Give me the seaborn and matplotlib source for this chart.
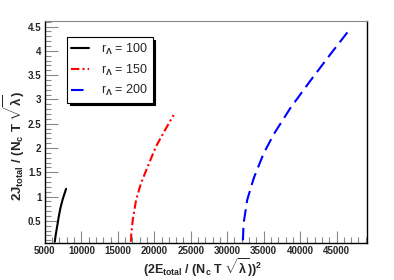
import matplotlib
matplotlib.use("Agg")
import matplotlib.pyplot as plt
import seaborn as sns
import pandas as pd
from matplotlib.ticker import MultipleLocator

# Data
labels = [r"r$_{\Lambda}$ = 100", r"r$_{\Lambda}$ = 150", r"r$_{\Lambda}$ = 200"]
x100 = [6350, 6450, 6600, 6750, 6900, 7150, 7450, 7900]
y100 = [0.07, 0.18, 0.32, 0.45, 0.59, 0.78, 0.95, 1.16]
x150 = [16800, 16850, 17050, 17500, 18190, 19100, 20230, 21360, 22650]
y150 = [0.07, 0.25, 0.52, 0.93, 1.28, 1.62, 2.03, 2.34, 2.68]
x200 = [32150, 32250, 32740, 33640, 35000, 36370, 38650, 41380, 44100, 46740]
y200 = [0.1, 0.45, 0.93, 1.38, 1.89, 2.28, 2.82, 3.38, 3.92, 4.43]

colors = ["black", "red", "blue"]
dashes = [None, (4, 1.5, 1, 1.5), (6, 3)]

sns.set_style("white")
plt.rcParams["font.family"] = ["Liberation Sans", "DejaVu Sans"]
plt.rcParams["mathtext.fontset"] = "custom"
plt.rcParams["mathtext.rm"] = "Liberation Sans:bold"
plt.rcParams["mathtext.it"] = "Liberation Sans:bold"
plt.rcParams["mathtext.bf"] = "Liberation Sans:bold"

fig = plt.figure(figsize=(3.94, 2.8), dpi=100)
ax = fig.add_axes([0.114, 0.133, 0.818, 0.793])

series = [(x100, y100), (x150, y150), (x200, y200)]
for (xs, ys), lab, c, d in zip(series, labels, colors, dashes):
    df = pd.DataFrame({"x": xs, "y": ys})
    sns.lineplot(data=df, x="x", y="y", ax=ax, color=c, sort=False,
                 estimator=None, label=lab, lw=1.5)
    if d is not None:
        ax.lines[-1].set_dashes(d)

ax.set_xlim(5000, 49200)
ax.set_ylim(0.05, 4.62)
ax.xaxis.set_major_locator(MultipleLocator(5000))
ax.xaxis.set_minor_locator(MultipleLocator(1000))
ax.yaxis.set_minor_locator(MultipleLocator(0.1))
ax.set_yticks([0.5, 1, 1.5, 2, 2.5, 3, 3.5, 4, 4.5])
ax.set_yticklabels(["0.5", "1", "1.5", "2", "2.5", "3", "3.5", "4", "4.5"])
ax.tick_params(which="major", direction="in", length=9, width=0.8, color="#888888",
               labelsize=7, pad=2.5, bottom=True, left=True)
ax.tick_params(which="minor", direction="in", length=4.5, width=0.8, color="#888888",
               bottom=True, left=True)
for t in ax.get_xticklabels() + ax.get_yticklabels():
    t.set_fontweight("bold")
for s in ["left", "bottom", "right"]:
    ax.spines[s].set_color("black")
    ax.spines[s].set_linewidth(1.0)
ax.spines["top"].set_color("#888888")
ax.set_xlabel("")
ax.set_ylabel("")

fig.text(0.515, 0.045, r"(2E$_{\mathrm{total}}$ / (N$_{\mathrm{c}}$ T $\sqrt{\lambda}$))$^{2}$",
         ha="center", va="center", fontsize=9, fontweight="bold")
fig.text(0.035, 0.48, r"2J$_{\mathrm{total}}$ / (N$_{\mathrm{c}}$ T $\sqrt{\lambda}$)",
         ha="center", va="center", rotation=90, fontsize=9.5, fontweight="bold")

leg = ax.legend(loc="upper left", bbox_to_anchor=(0.068, 0.925), frameon=True,
                fancybox=False, shadow={"color": "black", "alpha": 1, "ox": 2, "oy": -2},
                fontsize=9, handlelength=1.4, borderpad=0.35, labelspacing=0.45,
                handletextpad=1.0, borderaxespad=0)
leg.get_frame().set_edgecolor("black")
leg.get_frame().set_linewidth(0.8)

fig.savefig("out.png", dpi=100)
